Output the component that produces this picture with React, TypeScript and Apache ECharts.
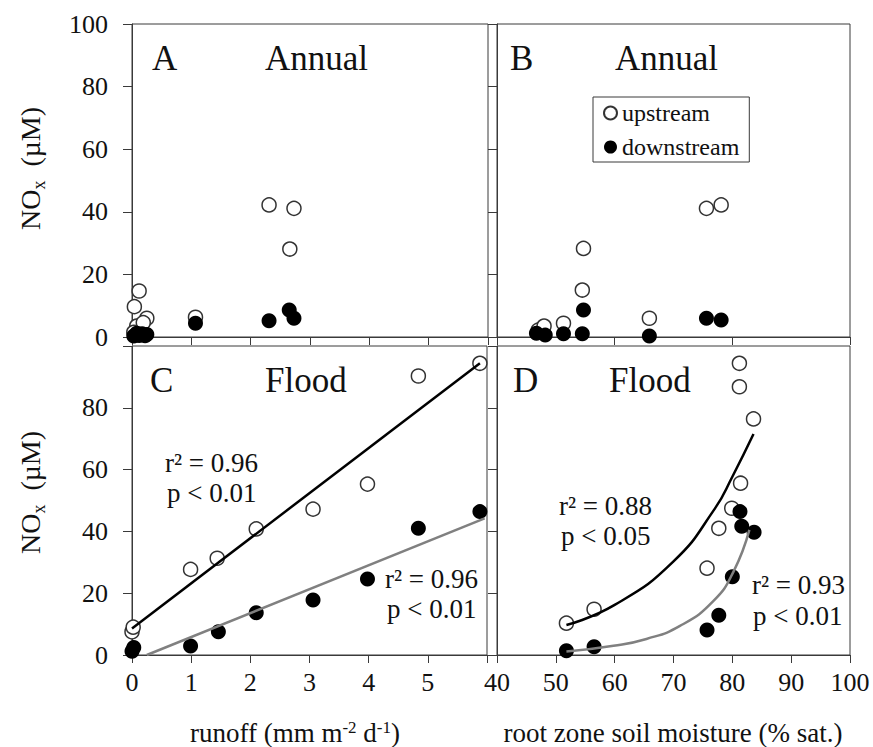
import React, { useEffect, useRef } from 'react';
import * as echarts from 'echarts';

const FONT = 'Liberation Serif, Times New Roman, serif';
const LINE = '#3a3a3a';
const INK = '#111';

// Panel A (annual): runoff vs NOx
const aUpX = [0.12, 0.04, 0.25, 0.08, 0.19, 0.03, 1.07, 2.31, 2.73, 2.66];
const aUpY = [14.7, 9.7, 6.0, 3.5, 4.6, 1.5, 6.3, 42.2, 41.1, 28.1];
const aDnX = [0.03, 0.08, 0.12, 0.17, 0.22, 0.25, 1.07, 2.31, 2.65, 2.73];
const aDnY = [0.3, 1.2, 0.5, 1.0, 0.4, 0.8, 4.4, 5.2, 8.6, 6.0];

// Panel B (annual): soil moisture vs NOx
const bUpX = [47.0, 48.0, 51.3, 54.5, 54.7, 65.9, 75.6, 78.1];
const bUpY = [2.2, 3.5, 4.4, 15.0, 28.3, 6.0, 41.1, 42.2];
const bDnX = [46.7, 48.2, 51.3, 54.5, 54.7, 65.9, 75.6, 78.1];
const bDnY = [1.2, 0.6, 1.0, 1.0, 8.6, 0.3, 6.0, 5.4];

// Panel C (flood): runoff vs NOx
const cUpX = [0.0, 0.02, 0.99, 1.44, 2.1, 3.06, 3.98, 4.84, 5.88];
const cUpY = [7.5, 9.0, 27.7, 31.3, 40.8, 47.2, 55.3, 90.3, 94.4];
const cDnX = [0.0, 0.03, 0.99, 1.46, 2.1, 3.06, 3.98, 4.84, 5.88];
const cDnY = [1.2, 2.4, 2.9, 7.5, 13.7, 17.8, 24.6, 41.0, 46.4];
const cFitUpX = [0, 5.88];
const cFitUpY = [8.6, 94.4];
const cFitDnX = [0.25, 5.96];
const cFitDnY = [0, 44.2];

// Panel D (flood): soil moisture vs NOx
const dUpX = [51.8, 56.5, 75.7, 77.7, 79.9, 81.4, 83.6, 81.2, 81.2];
const dUpY = [10.3, 14.8, 28.1, 41.0, 47.5, 55.6, 76.4, 86.8, 94.4];
const dDnX = [51.8, 56.5, 75.7, 77.7, 80.0, 81.3, 81.6, 83.7];
const dDnY = [1.4, 2.7, 8.1, 12.9, 25.3, 46.4, 41.7, 39.7];
const dFitUpX = [51.8, 60, 70, 77, 80, 83.6];
const dFitUpY = [9.7, 16.2, 30.3, 47.3, 57.7, 71.5];
const dFitDnX = [51.8, 59.8, 65.4, 71.1, 76.8, 80.2, 82.9];
const dFitDnY = [1.1, 3.0, 5.2, 9.4, 17.5, 27.0, 40.5];

const panelLetters = ['A', 'B', 'C', 'D'];
const panelTitles = ['Annual', 'Annual', 'Flood', 'Flood'];
const statsText = [
  ['r² = 0.96', 'p < 0.01'],
  ['r² = 0.96', 'p < 0.01'],
  ['r² = 0.88', 'p < 0.05'],
  ['r² = 0.93', 'p < 0.01'],
];
const seriesNames = ['upstream', 'downstream'];
// [text, kind] where kind: 0 normal, 1 subscript, 2 superscript
const yTitleParts: [string, number][] = [['NO', 0], ['x', 1], ['  (µM)', 0]];
const xTitleCParts: [string, number][] = [['runoff (mm m', 0], ['-2', 2], [' d', 0], ['-1', 2], [')', 0]];
const xTitleD = 'root zone soil moisture (% sat.)';

const zip = (xs: number[], ys: number[]) => xs.map((x, i) => [x, ys[i]]);

const LABEL = { fontFamily: FONT, fontSize: 26, color: INK };

let measureCtx: CanvasRenderingContext2D | null = null;
function measure(text: string, size: number) {
  if (!measureCtx) measureCtx = document.createElement('canvas').getContext('2d');
  measureCtx!.font = `${size}px ${FONT}`;
  return measureCtx!.measureText(text).width;
}

// Build a group of text pieces centred at (cx, baseline); small pieces raised or lowered
function partsGroup(parts: [string, number][], cx: number, cy: number, size: number, rotation: number, baselineOffset: number) {
  const small = Math.round(size * 0.63);
  const widths = parts.map(([t, k]) => measure(t, k ? small : size));
  const total = widths.reduce((a, b) => a + b, 0);
  let x = -total / 2;
  const children = parts.map(([t, k], i) => {
    const s = k ? small : size;
    const shift = k === 1 ? size * 0.2 : k === 2 ? -size * 0.33 : 0;
    const el = {
      type: 'text',
      x,
      y: baselineOffset + shift - 0.34 * s,
      silent: true,
      style: { text: t, fontSize: s, fontFamily: FONT, fill: INK, align: 'left', verticalAlign: 'middle' },
    };
    x += widths[i];
    return el;
  });
  return { type: 'group', x: cx, y: cy, rotation, silent: true, children };
}

function axis(gridIndex: number, min: number, max: number, interval: number, label: any, isY: boolean) {
  return {
    type: 'value',
    gridIndex,
    min,
    max,
    interval,
    splitLine: { show: false },
    axisLine: { show: true, onZero: false, lineStyle: { color: LINE, width: 1 } },
    axisTick: { show: true, inside: false, length: isY ? 9 : 8, lineStyle: { color: LINE, width: 1 } },
    axisLabel: label,
  };
}

function scatter(name: string, data: number[][], idx: number, filled: boolean) {
  return {
    type: 'scatter',
    name,
    xAxisIndex: idx,
    yAxisIndex: idx,
    data,
    symbol: 'circle',
    symbolSize: filled ? 15 : 14,
    z: filled ? 3 : 2,
    silent: true,
    itemStyle: filled
      ? { color: '#000', borderColor: '#000', borderWidth: 0, opacity: 1 }
      : { color: '#fff', borderColor: '#333', borderWidth: 1.5, opacity: 1 },
  };
}

function fit(data: number[][], idx: number, color: string, smooth: boolean) {
  return {
    type: 'line',
    xAxisIndex: idx,
    yAxisIndex: idx,
    data,
    showSymbol: false,
    symbol: 'none',
    smooth: smooth ? 0.5 : false,
    z: 4,
    silent: true,
    lineStyle: { color, width: 2.5 },
  };
}

function txt(text: string, x: number, baseline: number, size: number) {
  return {
    type: 'text',
    x,
    y: baseline - 0.34 * size,
    silent: true,
    style: { text, fontSize: size, fontFamily: FONT, fill: INK, align: 'left', verticalAlign: 'middle' },
  };
}

export default function App() {
  const ref = useRef<HTMLDivElement>(null);
  useEffect(() => {
    if (!ref.current) return;
    const chart = echarts.init(ref.current, null, { renderer: 'svg' });
    const gridBase = { show: true, borderColor: LINE, borderWidth: 1, backgroundColor: 'transparent' };
    const hideMax = (mx: number) => (v: number) => (v === mx ? '' : String(v));
    const yLab = { ...LABEL, show: true, margin: 24 };
    const noLab = { show: false };

    const graphic: any[] = [
      txt(panelLetters[0], 152, 70, 35),
      txt(panelTitles[0], 265, 70, 35),
      txt(panelLetters[1], 510, 70, 35),
      txt(panelTitles[1], 615, 70, 35),
      txt(panelLetters[2], 150, 392, 35),
      txt(panelTitles[2], 265, 392, 35),
      txt(panelLetters[3], 513, 392, 35),
      txt(panelTitles[3], 609, 392, 35),
      txt(statsText[0][0], 165, 472, 27),
      txt(statsText[0][1], 167, 502, 27),
      txt(statsText[1][0], 385, 588, 27),
      txt(statsText[1][1], 387, 618, 27),
      txt(statsText[2][0], 559, 515, 27),
      txt(statsText[2][1], 561, 545, 27),
      txt(statsText[3][0], 752, 594, 27),
      txt(statsText[3][1], 753, 625, 27),
      partsGroup(yTitleParts, 40, 168.5, 28, Math.PI / 2, 0),
      partsGroup(yTitleParts, 40, 492.5, 28, Math.PI / 2, 0),
      partsGroup(xTitleCParts, 295, 742, 27, 0, 0),
      txt(xTitleD, 673 - measure(xTitleD, 27) / 2, 742, 27),
    ];

    chart.setOption({
      animation: false,
      backgroundColor: '#fff',
      grid: [
        { ...gridBase, left: 132, top: 24, width: 356, height: 313 },
        { ...gridBase, left: 497, top: 24, width: 353, height: 313 },
        { ...gridBase, left: 132, top: 346, width: 355, height: 309 },
        { ...gridBase, left: 497, top: 346, width: 353, height: 309 },
      ],
      xAxis: [
        axis(0, 0, 6, 1, noLab, false),
        axis(1, 40, 100, 20, noLab, false),
        axis(2, 0, 6, 1, { ...LABEL, show: true, margin: 14, formatter: hideMax(6) }, false),
        axis(3, 40, 100, 10, { ...LABEL, show: true, margin: 14 }, false),
      ],
      yAxis: [
        axis(0, 0, 100, 20, yLab, true),
        axis(1, 0, 100, 20, noLab, true),
        axis(2, 0, 100, 20, { ...yLab, formatter: hideMax(100) }, true),
        axis(3, 0, 100, 20, noLab, true),
      ],
      legend: {
        data: seriesNames,
        orient: 'vertical',
        left: 593,
        top: 97,
        padding: [4, 10, 3, 10],
        itemGap: 10,
        itemWidth: 13,
        itemHeight: 13,
        icon: 'circle',
        selectedMode: false,
        borderColor: LINE,
        borderWidth: 1,
        textStyle: { fontFamily: FONT, fontSize: 24, color: INK },
      },
      series: [
        scatter(seriesNames[0], zip(aUpX, aUpY), 0, false),
        scatter(seriesNames[1], zip(aDnX, aDnY), 0, true),
        scatter(seriesNames[0], zip(bUpX, bUpY), 1, false),
        scatter(seriesNames[1], zip(bDnX, bDnY), 1, true),
        scatter(seriesNames[0], zip(cUpX, cUpY), 2, false),
        scatter(seriesNames[1], zip(cDnX, cDnY), 2, true),
        scatter(seriesNames[0], zip(dUpX, dUpY), 3, false),
        scatter(seriesNames[1], zip(dDnX, dDnY), 3, true),
        fit(zip(cFitUpX, cFitUpY), 2, '#000', false),
        fit(zip(cFitDnX, cFitDnY), 2, '#808080', false),
        fit(zip(dFitUpX, dFitUpY), 3, '#000', true),
        fit(zip(dFitDnX, dFitDnY), 3, '#808080', true),
      ],
      graphic,
    });
    return () => chart.dispose();
  }, []);
  return (
    <div
      ref={ref}
      style={{ position: 'fixed', left: 0, top: 0, width: 873, height: 747, background: '#fff' }}
    />
  );
}
